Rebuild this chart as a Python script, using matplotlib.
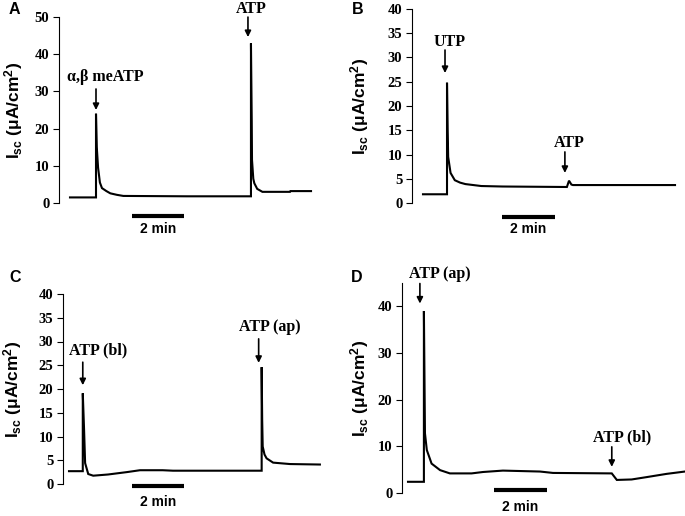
import matplotlib
matplotlib.use("Agg")
import matplotlib.pyplot as plt
from matplotlib.transforms import offset_copy

plt.rcParams['mathtext.fontset'] = 'custom'
plt.rcParams['mathtext.rm'] = 'Liberation Sans:bold'
plt.rcParams['mathtext.it'] = 'Liberation Sans:bold'
plt.rcParams['mathtext.bf'] = 'Liberation Sans:bold'
plt.rcParams['mathtext.default'] = 'rm'

# ---------------- data (time in min, Isc in uA/cm2) ----------------
A_t = [0, 1.0, 1.0, 1.03, 1.08, 1.15, 1.23, 1.4, 1.55, 1.8, 2.05, 4.5, 6.96, 6.96, 6.99, 7.0, 7.05, 7.09, 7.2, 7.4, 8.46, 8.48, 9.27]
A_y = [1.5, 1.5, 24.0, 15.0, 9.5, 5.5, 4.0, 3.2, 2.6, 2.2, 1.9, 1.8, 1.8, 42.9, 22.0, 11.6, 6.5, 5.3, 3.8, 3.0, 3.0, 3.2, 3.2]

B_t = [0, 0.906, 0.906, 0.93, 0.95, 1.04, 1.2, 1.4, 1.6, 2.2, 3.0, 5.43, 5.51, 5.6, 5.66, 9.51]
B_y = [1.8, 1.8, 24.8, 15.0, 9.5, 6.2, 4.7, 4.2, 3.9, 3.5, 3.4, 3.3, 4.6, 3.8, 3.7, 3.7]

C_t = [0, 0.53, 0.53, 0.58, 0.62, 0.74, 0.93, 1.5, 2.22, 2.73, 3.6, 4.0, 7.41, 7.41, 7.43, 7.45, 7.52, 7.6, 7.85, 8.5, 9.65]
C_y = [2.7, 2.7, 19.1, 11.4, 4.4, 2.1, 1.75, 2.0, 2.5, 2.9, 2.9, 2.8, 2.8, 24.6, 13.5, 7.9, 6.2, 5.4, 4.5, 4.2, 4.1]

D_t = [0, 0.60, 0.60, 0.64, 0.71, 0.89, 1.21, 1.58, 2.4, 2.83, 3.58, 4.98, 5.47, 7.69, 7.88, 8.44, 9.0, 9.76, 10.45]
D_y = [2.4, 2.4, 39.0, 12.8, 9.2, 6.3, 4.9, 4.2, 4.2, 4.5, 4.8, 4.6, 4.3, 4.2, 2.8, 2.9, 3.4, 4.1, 4.6]

A_labels = ['α,β meATP', 'ATP']
B_labels = ['UTP', 'ATP']
C_labels = ['ATP (bl)', 'ATP (ap)']
D_labels = ['ATP (ap)', 'ATP (bl)']

A_events = [1.0, 6.96]
B_events = [0.906, 5.43]
C_events = [0.53, 7.41]
D_events = [0.60, 7.69]

A_yticks = [0, 10, 20, 30, 40, 50]
B_yticks = [0, 5, 10, 15, 20, 25, 30, 35, 40]
C_yticks = [0, 5, 10, 15, 20, 25, 30, 35, 40]
D_yticks = [0, 10, 20, 30, 40]

scale_len = 2.0  # minutes

# ---------------- layout ----------------
W, H = 685, 516
fig = plt.figure(figsize=(W / 100, H / 100), dpi=100)

SERIF = 'Liberation Serif'
SANS = 'Liberation Sans'

panels = [
    dict(letter='A', t=A_t, y=A_y, labels=A_labels, events=A_events, yticks=A_yticks,
         box=(59, 320, 17, 203), x0=70, ppm=26.0, ylim=(0, 50),
         arrow_tip=[25.0, 44.6], arrow_dx=[0, -3], arrow_len=[21, 20],
         text_off=[(9, 33), (0, 28)],
         sb_start=2.38, sb_y=-3.5, sb_text=13, ylab_off=45, letter_pos=(14, 10)),
    dict(letter='B', t=B_t, y=B_y, labels=B_labels, events=B_events, yticks=B_yticks,
         box=(412, 685, 9, 203), x0=423, ppm=26.5, ylim=(0, 40),
         arrow_tip=[26.8, 6.2], arrow_dx=[-2, -2], arrow_len=[23, 21],
         text_off=[(3, 31), (2, 30)],
         sb_start=2.98, sb_y=-2.9, sb_text=12, ylab_off=52, letter_pos=(358, 10)),
    dict(letter='C', t=C_t, y=C_y, labels=C_labels, events=C_events, yticks=C_yticks,
         box=(63, 330, 294, 484), x0=69, ppm=26.0, ylim=(0, 40),
         arrow_tip=[20.8, 25.5], arrow_dx=[0, -3], arrow_len=[23, 24],
         text_off=[(15, 35), (8, 36)],
         sb_start=2.42, sb_y=-0.4, sb_text=16, ylab_off=50, letter_pos=(15, 277)),
    dict(letter='D', t=D_t, y=D_y, labels=D_labels, events=D_events, yticks=D_yticks,
         box=(402, 685, 283, 493), x0=408, ppm=26.5, ylim=(0, 45),
         arrow_tip=[40.6, 5.6], arrow_dx=[-4, 0], arrow_len=[20, 20],
         text_off=[(16, 30), (10, 29)],
         sb_start=3.23, sb_y=0.6, sb_text=17, ylab_off=42, letter_pos=(357, 278)),
]

for p in panels:
    l, r, t_, b = p['box']
    ax = fig.add_axes([l / W, 1 - b / H, (r - l) / W, (b - t_) / H])
    ax.set_xlim((l - p['x0']) / p['ppm'], (r - p['x0']) / p['ppm'])
    ax.set_ylim(*p['ylim'])
    ax.plot(p['t'], p['y'], color='black', lw=1.5, solid_joinstyle='miter')

    for s in ['top', 'right', 'bottom']:
        ax.spines[s].set_visible(False)
    ax.spines['left'].set_linewidth(0.8)
    ax.set_xticks([])
    ax.set_yticks(p['yticks'])
    ax.tick_params(axis='y', direction='out', length=4, width=0.8, pad=3)
    for lab in ax.get_yticklabels():
        lab.set_fontfamily(SERIF)
        lab.set_fontweight('bold')
        lab.set_fontsize(10.5)

    ax.set_ylabel('I$_{sc}$ (μA/cm$^{2}$)', fontsize=12.5, fontfamily=SANS,
                  fontweight='bold')
    ax.yaxis.set_label_coords(-p['ylab_off'] / (r - l), 0.5)
    ax.yaxis.label.set_verticalalignment('center')

    # stimulus arrows and labels
    for lbl, ev, tip, adx, alen, (tdx, tdy) in zip(p['labels'], p['events'], p['arrow_tip'],
                                                   p['arrow_dx'], p['arrow_len'], p['text_off']):
        shifted = offset_copy(ax.transData, fig=fig, x=adx, y=0, units='dots')
        ax.annotate('', xy=(ev, tip), xycoords=shifted,
                    xytext=(0, alen), textcoords='offset pixels',
                    arrowprops=dict(arrowstyle='-|>', color='black', lw=1.2,
                                    mutation_scale=9, shrinkA=0, shrinkB=0),
                    annotation_clip=False)
        ax.annotate(lbl, xy=(ev, tip), xycoords='data', xytext=(tdx, tdy),
                    textcoords='offset pixels', ha='center', va='center',
                    fontfamily=SERIF, fontweight='bold', fontsize=11.5,
                    annotation_clip=False)

    # scale bar
    sb_x = [p['sb_start'], p['sb_start'] + scale_len]
    ax.plot(sb_x, [p['sb_y'], p['sb_y']], color='black', lw=3,
            solid_capstyle='butt', clip_on=False)
    ax.annotate('2 min', xy=(sum(sb_x) / 2, p['sb_y']), xycoords='data',
                xytext=(0, -p['sb_text']), textcoords='offset pixels',
                ha='center', va='center', fontfamily=SANS, fontweight='bold',
                fontsize=10, annotation_clip=False)

    lx, ly = p['letter_pos']
    fig.text(lx / W, 1 - ly / H, p['letter'], ha='center', va='center',
             fontfamily=SANS, fontweight='bold', fontsize=11.5)

fig.savefig('out.png', dpi=100)
